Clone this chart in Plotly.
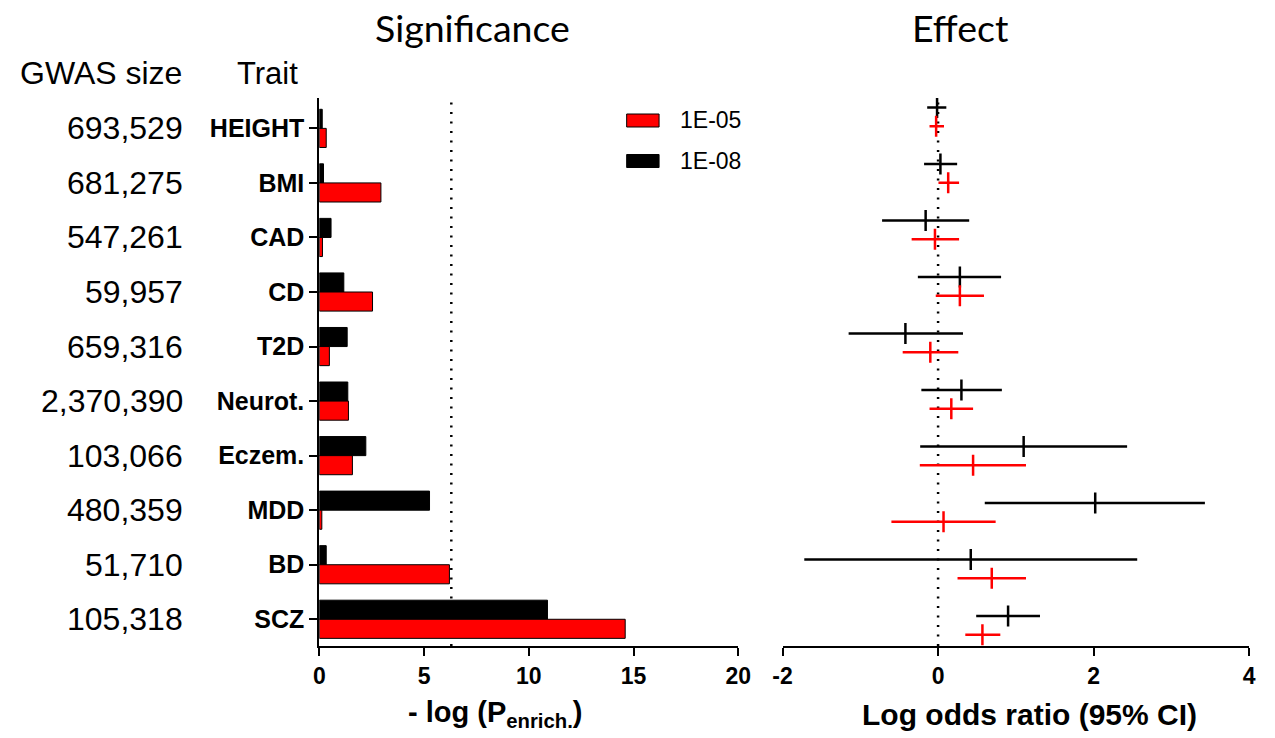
import plotly.graph_objects as go

# ---------------- data ----------------
traits = ["HEIGHT", "BMI", "CAD", "CD", "T2D", "Neurot.", "Eczem.", "MDD", "BD", "SCZ"]
gwas_size = ["693,529", "681,275", "547,261", "59,957", "659,316",
             "2,370,390", "103,066", "480,359", "51,710", "105,318"]

# -log10 P enrichment
sig_1e05 = [0.33, 2.94, 0.15, 2.54, 0.48, 1.39, 1.58, 0.12, 6.21, 14.6]
sig_1e08 = [0.14, 0.20, 0.56, 1.17, 1.33, 1.36, 2.22, 5.26, 0.33, 10.89]
sig_threshold = 6.3
sig_ticks = [0, 5, 10, 15, 20]

# log odds ratio with 95% CI
lor_1e05 = [-0.025, 0.13, -0.04, 0.28, -0.10, 0.17, 0.45, 0.07, 0.69, 0.57]
lo_1e05 = [-0.11, 0.005, -0.34, -0.03, -0.455, -0.11, -0.235, -0.60, 0.25, 0.35]
hi_1e05 = [0.076, 0.27, 0.27, 0.59, 0.26, 0.45, 1.13, 0.74, 1.13, 0.80]

lor_1e08 = [-0.013, 0.03, -0.16, 0.28, -0.42, 0.30, 1.10, 2.02, 0.42, 0.90]
lo_1e08 = [-0.14, -0.18, -0.72, -0.26, -1.15, -0.215, -0.23, 0.60, -1.72, 0.49]
hi_1e08 = [0.106, 0.245, 0.40, 0.81, 0.32, 0.82, 2.43, 3.43, 2.56, 1.31]
lor_ticks = [-2, 0, 2, 4]
lor_ticktext = ["-2", "0", "2", "4"]

series_names = ["1E-05", "1E-08"]
RED = "#FF0000"
BLACK = "#000000"

W, H = 1275, 738
def px(x):
    return x / W
def py(y):
    return 1 - y / H

ARIAL = "Liberation Sans, Arial, sans-serif"
TITLEF = "Lato, Carlito, Calibri, sans-serif"

fig = go.Figure()

# ---------------- left: significance bars ----------------
fig.add_trace(go.Bar(
    y=traits, x=sig_1e08, orientation="h", name=series_names[1],
    marker=dict(color=BLACK, line=dict(color=BLACK, width=1)),
    xaxis="x", yaxis="y", showlegend=False,
))
fig.add_trace(go.Bar(
    y=traits, x=sig_1e05, orientation="h", name=series_names[0],
    marker=dict(color=RED, line=dict(color=BLACK, width=1)),
    xaxis="x", yaxis="y", showlegend=False,
))

# ---------------- right: effect sizes ----------------
off = 0.166
idx = list(range(len(traits)))
for vals, lo, hi, col, sgn, nm in [
    (lor_1e08, lo_1e08, hi_1e08, BLACK, -1, series_names[1]),
    (lor_1e05, lo_1e05, hi_1e05, RED, 1, series_names[0]),
]:
    fig.add_trace(go.Scatter(
        x=vals, y=[i + sgn * off for i in idx], mode="markers", name=nm,
        xaxis="x2", yaxis="y2", showlegend=False,
        marker=dict(symbol="line-ns", size=15, color=col,
                    line=dict(color=col, width=2.5)),
        error_x=dict(type="data", symmetric=False,
                     array=[h - v for h, v in zip(hi, vals)],
                     arrayminus=[v - l for v, l in zip(vals, lo)],
                     color=col, thickness=2.5, width=0),
    ))

ydom = [py(646), py(98)]

fig.update_layout(
    width=W, height=H, autosize=False,
    margin=dict(l=0, r=0, t=0, b=0),
    paper_bgcolor="white", plot_bgcolor="white",
    barmode="group", bargap=0.30, bargroupgap=0,
    xaxis=dict(domain=[px(315), px(741.7)], range=[0, 20],
               tickvals=sig_ticks, showgrid=False, zeroline=False,
               showline=True, linecolor="black", linewidth=2,
               ticks="outside", ticklen=8, tickwidth=2, tickcolor="black",
               tickfont=dict(family=ARIAL, size=23, color="black", weight="bold"),
               anchor="y", fixedrange=True),
    yaxis=dict(domain=ydom, type="category", categoryorder="array",
               categoryarray=traits, range=[9.49, -0.557],
               showgrid=False, zeroline=False,
               showline=True, linecolor="black", linewidth=2,
               ticks="outside", ticklen=8, tickwidth=2, tickcolor="black",
               tickfont=dict(family=ARIAL, size=25, color="black", weight="bold"),
               anchor="x", fixedrange=True),
    xaxis2=dict(domain=[px(786.7), px(1262)], range=[-2, 4],
                tickvals=lor_ticks, ticktext=lor_ticktext,
                showgrid=False, zeroline=False,
                showline=True, linecolor="black", linewidth=2,
                ticks="outside", ticklen=8, tickwidth=2, tickcolor="black",
                tickfont=dict(family=ARIAL, size=23, color="black", weight="bold"),
                anchor="y2", fixedrange=True),
    yaxis2=dict(domain=ydom, range=[9.367, -0.332], showgrid=False,
                zeroline=False, showline=False, showticklabels=False,
                ticks="", anchor="x2", fixedrange=True),
)

# dotted reference lines
fig.add_shape(type="line", xref="x", yref="y domain", x0=sig_threshold, x1=sig_threshold,
              y0=0, y1=1, line=dict(color="black", width=2.5, dash="2px,7.5px"), layer="below")
fig.add_shape(type="line", xref="x2", yref="y2 domain", x0=0, x1=0,
              y0=0, y1=1, line=dict(color="black", width=2.5, dash="2px,7.5px"), layer="below")

annots = []
# panel titles
annots.append(dict(text="Significance", x=px(471.5), y=py(28), xref="paper", yref="paper",
                   showarrow=False, xanchor="center", yanchor="middle",
                   font=dict(family=TITLEF, size=37.5, color="black")))
annots.append(dict(text="Effect", x=px(967.5), y=py(28), xref="paper", yref="paper",
                   showarrow=False, xanchor="center", yanchor="middle",
                   font=dict(family=TITLEF, size=37.5, color="black")))
# column headers
annots.append(dict(text="GWAS size", x=px(8), y=py(73), xref="paper", yref="paper",
                   showarrow=False, xanchor="left", yanchor="middle",
                   font=dict(family=ARIAL, size=32, color="black")))
annots.append(dict(text="Trait", x=px(229), y=py(73), xref="paper", yref="paper",
                   showarrow=False, xanchor="left", yanchor="middle",
                   font=dict(family=ARIAL, size=31, color="black")))
# GWAS sizes
for t, g in zip(traits, gwas_size):
    annots.append(dict(text=g, x=px(178), y=t, xref="paper", yref="y",
                       showarrow=False, xanchor="right", yanchor="middle",
                       font=dict(family=ARIAL, size=32, color="black")))
# axis titles
annots.append(dict(text="- log (P<sub>enrich.</sub>)", x=px(494), y=py(714), xref="paper",
                   yref="paper", showarrow=False, xanchor="center", yanchor="middle",
                   font=dict(family=ARIAL, size=29, color="black", weight="bold")))
annots.append(dict(text="Log odds ratio (95% CI)", x=px(1038), y=py(714), xref="paper",
                   yref="paper", showarrow=False, xanchor="center", yanchor="middle",
                   font=dict(family=ARIAL, size=30, color="black", weight="bold")))

# custom legend
for nm, col, yc in [(series_names[0], RED, 120.5), (series_names[1], BLACK, 161)]:
    fig.add_shape(type="rect", xref="paper", yref="paper",
                  x0=px(628), x1=px(661), y0=py(yc - 6.5), y1=py(yc + 6.5),
                  fillcolor=col, line=dict(color="black", width=1))
    annots.append(dict(text=nm, x=px(680), y=py(yc), xref="paper", yref="paper",
                       showarrow=False, xanchor="left", yanchor="middle",
                       font=dict(family=ARIAL, size=23, color="black")))

fig.update_layout(annotations=annots)

fig.write_html(
    "out.html",
    config={"displayModeBar": False},
    post_script="document.body.style.margin='0';document.body.style.overflow='hidden';",
)
